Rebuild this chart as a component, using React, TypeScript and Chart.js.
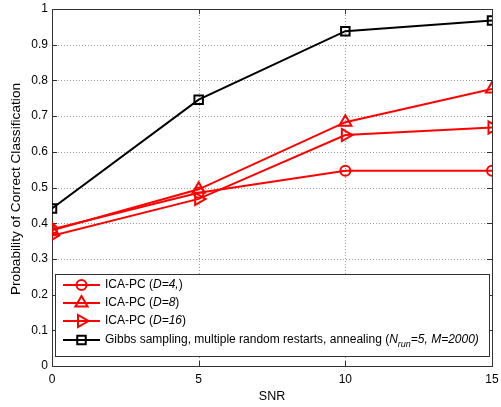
import React, { useEffect, useRef } from 'react';
import { Chart, registerables } from 'chart.js';

Chart.register(...registerables);

// ---- data ----
const snr = [0, 5, 10, 15];
const icaD4 = [0.383, 0.485, 0.547, 0.547];
const icaD8 = [0.38, 0.495, 0.683, 0.776];
const icaD16 = [0.365, 0.468, 0.647, 0.668];
const gibbs = [0.441, 0.746, 0.938, 0.968];
const xTicks = [0, 5, 10, 15];
const yTicks = [0, 0.1, 0.2, 0.3, 0.4, 0.5, 0.6, 0.7, 0.8, 0.9, 1];
const xTitle = 'SNR';
const yTitle = 'Probability of Correct Classification';

type Seg = { t: string; i?: boolean; sub?: boolean };
const legendItems: { segs: Seg[]; color: string; marker: string }[] = [
  { segs: [{ t: 'ICA-PC (' }, { t: 'D=4,', i: true }, { t: ')' }], color: '#ff0000', marker: 'circle' },
  { segs: [{ t: 'ICA-PC (' }, { t: 'D=8', i: true }, { t: ')' }], color: '#ff0000', marker: 'triangle' },
  { segs: [{ t: 'ICA-PC (' }, { t: 'D=16', i: true }, { t: ')' }], color: '#ff0000', marker: 'triangleRight' },
  {
    segs: [
      { t: 'Gibbs sampling, multiple random restarts, annealing (' },
      { t: 'N', i: true },
      { t: 'run', i: true, sub: true },
      { t: '=5, M=2000)', i: true },
    ],
    color: '#000000',
    marker: 'square',
  },
];

const FONT = '"Liberation Sans", Arial, Helvetica, sans-serif';

function drawMarker(ctx: CanvasRenderingContext2D, kind: string, x: number, y: number, color: string) {
  ctx.save();
  ctx.strokeStyle = color;
  ctx.lineWidth = 2;
  ctx.beginPath();
  if (kind === 'circle') {
    ctx.arc(x, y, 5, 0, Math.PI * 2);
  } else if (kind === 'triangle') {
    const r = 7;
    const e = (3 * r) / Math.sqrt(3);
    const h = (e * Math.sqrt(3)) / 2;
    ctx.moveTo(x - e / 2, y + h / 3);
    ctx.lineTo(x + e / 2, y + h / 3);
    ctx.lineTo(x, y - (2 * h) / 3);
    ctx.closePath();
  } else if (kind === 'triangleRight') {
    const r = 7;
    const e = (3 * r) / Math.sqrt(3);
    const h = (e * Math.sqrt(3)) / 2;
    ctx.moveTo(x - h / 3, y - e / 2);
    ctx.lineTo(x - h / 3, y + e / 2);
    ctx.lineTo(x + (2 * h) / 3, y);
    ctx.closePath();
  } else {
    const s = 6 * Math.SQRT1_2;
    ctx.rect(x - s, y - s, 2 * s, 2 * s);
  }
  ctx.stroke();
  ctx.restore();
}

const framePlugin = {
  id: 'matlabFrame',
  beforeDatasetsDraw(chart: any) {
    const { ctx, chartArea, scales } = chart;
    const { left, right, top, bottom } = chartArea;
    ctx.save();
    // grid
    ctx.strokeStyle = '#9a9a9a';
    ctx.lineWidth = 1;
    ctx.setLineDash([1, 2]);
    xTicks.forEach((v) => {
      if (v === xTicks[0] || v === xTicks[xTicks.length - 1]) return;
      const px = Math.round(scales.x.getPixelForValue(v)) + 0.5;
      ctx.beginPath();
      ctx.moveTo(px, top);
      ctx.lineTo(px, bottom);
      ctx.stroke();
    });
    yTicks.forEach((v) => {
      if (v === yTicks[0] || v === yTicks[yTicks.length - 1]) return;
      const py = Math.round(scales.y.getPixelForValue(v)) + 0.5;
      ctx.beginPath();
      ctx.moveTo(left, py);
      ctx.lineTo(right, py);
      ctx.stroke();
    });
    ctx.setLineDash([]);
    // frame
    ctx.strokeStyle = '#333333';
    ctx.strokeRect(Math.round(left) + 0.5, Math.round(top) + 0.5, Math.round(right - left), Math.round(bottom - top));
    // tick marks inside
    const tl = 5;
    xTicks.forEach((v) => {
      const px = Math.round(scales.x.getPixelForValue(v)) + 0.5;
      ctx.beginPath();
      ctx.moveTo(px, bottom);
      ctx.lineTo(px, bottom - tl);
      ctx.moveTo(px, top);
      ctx.lineTo(px, top + tl);
      ctx.stroke();
    });
    yTicks.forEach((v) => {
      const py = Math.round(scales.y.getPixelForValue(v)) + 0.5;
      ctx.beginPath();
      ctx.moveTo(left, py);
      ctx.lineTo(left + tl, py);
      ctx.moveTo(right, py);
      ctx.lineTo(right - tl, py);
      ctx.stroke();
    });
    // axis titles
    ctx.fillStyle = '#000';
    ctx.font = `12.5px ${FONT}`;
    ctx.textAlign = 'center';
    ctx.textBaseline = 'middle';
    ctx.fillText(xTitle, (left + right) / 2, 397);
    ctx.font = `13.7px ${FONT}`;
    ctx.translate(16, 189);
    ctx.rotate(-Math.PI / 2);
    ctx.fillText(yTitle, 0, 0);
    ctx.restore();
  },
  afterDraw(chart: any) {
    const { ctx } = chart;
    ctx.save();
    const bx = 55, by = 274, bw = 435, bh = 83;
    ctx.fillStyle = '#ffffff';
    ctx.fillRect(bx, by, bw, bh);
    ctx.strokeStyle = '#333333';
    ctx.lineWidth = 1;
    ctx.strokeRect(bx + 0.5, by + 0.5, bw - 1, bh - 1);
    const rows = [285, 303, 321, 340];
    legendItems.forEach((it, k) => {
      const y = rows[k];
      ctx.strokeStyle = it.color;
      ctx.lineWidth = 2;
      ctx.beginPath();
      ctx.moveTo(63, y);
      ctx.lineTo(100, y);
      ctx.stroke();
      drawMarker(ctx, it.marker, 81.5, y, it.color);
      let x = 105;
      ctx.fillStyle = '#000';
      ctx.textBaseline = 'middle';
      ctx.textAlign = 'left';
      it.segs.forEach((s) => {
        const size = s.sub ? 9 : 12;
        ctx.font = `${s.i ? 'italic ' : ''}${size}px ${FONT}`;
        ctx.fillText(s.t, x, s.sub ? y + 4 : y);
        x += ctx.measureText(s.t).width;
      });
    });
    ctx.restore();
  },
};

function mk(values: number[]) {
  return snr.map((x, i) => ({ x, y: values[i] }));
}

function zeroPad(s: any) {
  s.paddingLeft = 0;
  s.paddingRight = 0;
  s.paddingTop = 0;
  s.paddingBottom = 0;
}

export default function App() {
  const ref = useRef<HTMLCanvasElement>(null);
  useEffect(() => {
    if (!ref.current) return;
    const red = '#ff0000';
    const chart = new Chart(ref.current, {
      type: 'line',
      data: {
        datasets: [
          { label: 'D4', data: mk(icaD4), borderColor: red, borderWidth: 2, pointStyle: 'circle', pointRadius: 5, pointBorderWidth: 2, pointBorderColor: red, pointBackgroundColor: 'rgba(0,0,0,0)' },
          { label: 'D8', data: mk(icaD8), borderColor: red, borderWidth: 2, pointStyle: 'triangle', pointRadius: 7, pointBorderWidth: 2, pointBorderColor: red, pointBackgroundColor: 'rgba(0,0,0,0)' },
          { label: 'D16', data: mk(icaD16), borderColor: red, borderWidth: 2, pointStyle: 'triangle', pointRotation: 90, pointRadius: 7, pointBorderWidth: 2, pointBorderColor: red, pointBackgroundColor: 'rgba(0,0,0,0)' },
          { label: 'Gibbs', data: mk(gibbs), borderColor: '#000', borderWidth: 2, pointStyle: 'rect', pointRadius: 6, pointBorderWidth: 2, pointBorderColor: '#000', pointBackgroundColor: 'rgba(0,0,0,0)' },
        ],
      },
      options: {
        animation: false,
        responsive: false,
        layout: { padding: { top: 8, right: 9, left: 0, bottom: 0 } },
        plugins: { legend: { display: false }, tooltip: { enabled: false } },
        scales: {
          x: {
            type: 'linear',
            min: 0,
            max: 15,
            afterBuildTicks: (s: any) => { s.ticks = xTicks.map((v) => ({ value: v })); },
            afterFit: (s: any) => { s.height = 41; zeroPad(s); },
            ticks: { color: '#000', font: { family: FONT, size: 12 }, padding: 6, maxRotation: 0, callback: (v: any) => String(v) },
            grid: { display: false, drawTicks: false, tickLength: 0 },
            border: { display: false },
          },
          y: {
            type: 'linear',
            min: 0,
            max: 1,
            afterBuildTicks: (s: any) => { s.ticks = yTicks.map((v) => ({ value: v })); },
            afterFit: (s: any) => { s.width = 52; zeroPad(s); },
            ticks: { color: '#000', font: { family: FONT, size: 12 }, padding: 4, callback: (v: any) => String(Math.round(v * 10) / 10) },
            grid: { display: false, drawTicks: false, tickLength: 0 },
            border: { display: false },
          },
        },
      },
      plugins: [framePlugin],
    } as any);
    return () => chart.destroy();
  }, []);
  return (
    <div style={{ position: 'absolute', left: 0, top: 0, width: 501, height: 407, background: '#fff' }}>
      <canvas ref={ref} width={501} height={407} style={{ display: 'block' }} />
    </div>
  );
}
